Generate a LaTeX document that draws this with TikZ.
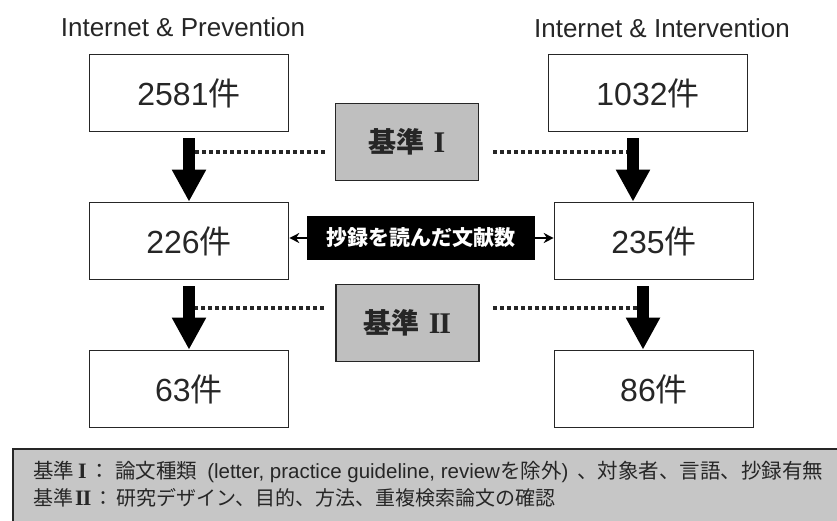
\documentclass[tikz,border=0pt]{standalone}
\usepackage{fontspec}
\setmainfont{Liberation Sans}
\newfontfamily\jp{Noto Sans CJK JP}
\newfontfamily\rom{Liberation Serif}
\usepackage{tikz}
\usetikzlibrary{
        arrows.meta,
        positioning
    }
\definecolor{boxgray}{HTML}{BFBFBF}
\definecolor{notegray}{HTML}{C6C6C6}
\definecolor{ink}{HTML}{262626}
\tikzset{
    count/.style={draw=ink,line width=1.6pt,minimum width=199pt,minimum height=77pt,
        inner sep=0pt,text=ink,font=\fontsize{32}{36}\selectfont},
    crit/.style={draw=ink,line width=1.6pt,fill=boxgray,minimum width=143pt,minimum height=77pt,
        inner sep=0pt,text=ink,font=\jp\bfseries\fontsize{28}{30}\selectfont},
    readbox/.style={fill=black,text=white,minimum width=228pt,minimum height=44pt,
        inner sep=0pt,font=\jp\bfseries\fontsize{21}{24}\selectfont},
    heading/.style={text=ink,font=\fontsize{26}{28}\selectfont},
    notebox/.style={draw=ink,line width=2.4pt,fill=notegray,minimum width=860pt,minimum height=100pt},
    notetext/.style={anchor=west,inner sep=0pt,text=ink,font=\fontsize{20.5}{24}\selectfont},
    bigarrow/.style={line width=12pt,shorten <=6pt,-{Triangle[width=32pt,length=32pt]}},
    smallarrow/.style={line width=2.2pt,-{Stealth[length=10pt,width=10pt]}},
    dotline/.style={ink,line width=4pt,dash pattern=on 4pt off 3pt}
}
\newcommand{\romI}{{\rom\bfseries\fontsize{30}{30}\selectfont I}}
\newcommand{\romII}{{\rom\bfseries\fontsize{30}{30}\selectfont I\kern-1.2pt I}}

\begin{document}
\begin{tikzpicture}[x=1pt,y=1pt,node distance=148pt]
    \useasboundingbox (0,0) rectangle (837,-520);
    \clip (0,0) rectangle (837,-520);
    % search results
    \node[count] (p0) at (189,-93) {2581{\jp 件}};
    \node[count] (p1) [below of=p0] {226{\jp 件}};
    \node[count] (p2) [below of=p1] {63{\jp 件}};
    \node[count] (r0) [right of=p0, node distance=459pt] {1032{\jp 件}};
    \node[count] (r1) [below of=r0, xshift=6pt] {235{\jp 件}};
    \node[count] (r2) [below of=r1] {86{\jp 件}};
    \node[heading] (t0) [above of=p0, node distance=66pt, xshift=-6pt] {Internet \& Prevention};
    \node[heading] (t1) [above of=r0, node distance=65pt, xshift=14pt] {Internet \& Intervention};
    % criteria and the label in between
    \node[crit] (g1) at (407,-142) {基準\hspace{9pt}\romI};
    \node[crit] (g2) at (407.5,-323) {基準\hspace{9pt}\romII};
    \node[readbox] (rd) at (421,-238) {抄録を読んだ文献数};
    % dotted lines first, arrows on top
    \draw[dotline, shorten <=10pt] ([yshift=-10pt]g1.west) -- ([yshift=-10pt]g1.west -| p0.south);
    \draw[dotline, shorten <=14pt, shorten >=15pt] ([yshift=-10pt]g1.east) -- ([yshift=-10pt]g1.east -| r0.south);
    \draw[dotline, shorten <=11pt] ([yshift=15.5pt]g2.west) -- ([yshift=15.5pt]g2.west -| p1.south);
    \draw[dotline, shorten <=13pt, shorten >=11pt] ([yshift=15.5pt]g2.east) -- ([yshift=15.5pt]g2.east -| r1.south);
    \draw[bigarrow] (p0.south) -- (p1.north);
    \draw[bigarrow] (p1.south) -- (p2.north);
    \draw[bigarrow] ([xshift=-15pt]r0.south) -- ([xshift=-15pt]r0.south |- r1.north);
    \draw[bigarrow] ([xshift=-11pt]r1.south) -- ([xshift=-11pt]r1.south |- r2.north);
    \draw[smallarrow] (rd.west) -- (rd.west -| p1.east);
    \draw[smallarrow] (rd.east) -- (rd.east -| r1.west);
    % note at the bottom
    \node[notebox, anchor=north west] (note) at (12,-448) {};
    \node[notetext] (n1) at ([shift={(21pt,-24pt)}]note.north west)
        {{\jp 基準}\hspace{4pt}{\rom\bfseries\fontsize{22}{24}\selectfont I}\hspace{3pt}{\jp ：}\hspace{5pt}{\jp 論文種類}\hspace{10pt}(letter, practice guideline, review{\jp を除外})\hspace{9pt}{\jp 、対象者、言語、抄録有無}};
    \node[notetext, font=\fontsize{20}{24}\selectfont] (n2) at ([yshift=-26pt]n1.west)
        {{\jp 基準}\hspace{2pt}{\rom\bfseries\fontsize{22}{24}\selectfont I\kern-0.8pt I}\hspace{2pt}{\jp ：}\hspace{3pt}{\jp 研究デザイン、目的、方法、重複検索論文の確認}};
\end{tikzpicture}
\end{document}
